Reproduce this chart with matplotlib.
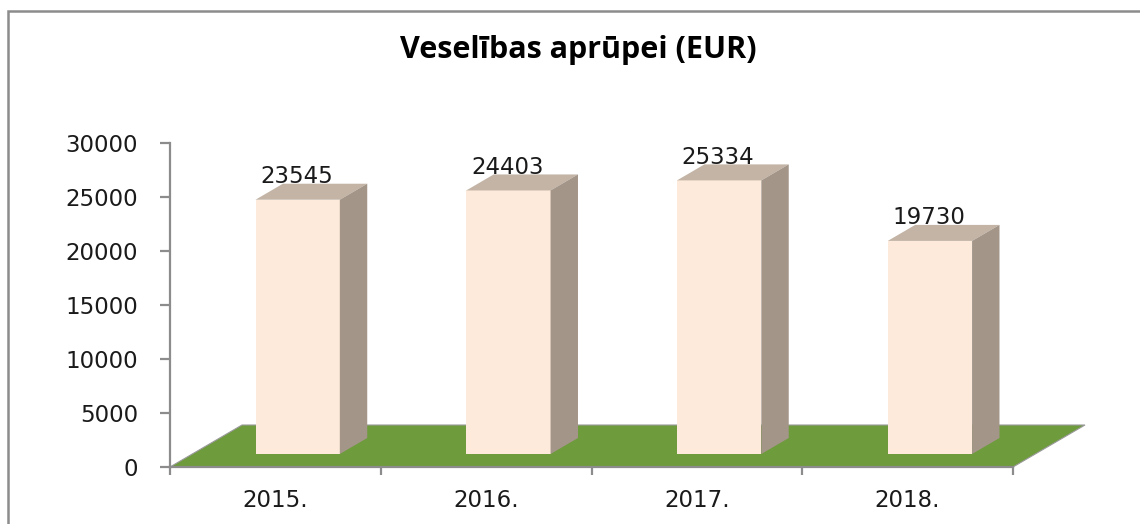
import matplotlib
matplotlib.use("Agg")
import matplotlib.pyplot as plt
from matplotlib.patches import Polygon, Rectangle

# ---- data ----
years = ["2015.", "2016.", "2017.", "2018."]
values = [23545, 24403, 25334, 19730]
title = "Veselības aprūpei (EUR)"
yticks = [0, 5000, 10000, 15000, 20000, 25000, 30000]

# ---- figure geometry (pixels) ----
W, H, DPI = 1140, 524, 100
fig = plt.figure(figsize=(W / DPI, H / DPI), dpi=DPI)
fig.patch.set_facecolor("white")

ax_l, ax_r, ax_top, ax_bot = 170, 1013, 143, 467
ax = fig.add_axes([ax_l / W, 1 - ax_bot / H, (ax_r - ax_l) / W, (ax_bot - ax_top) / H])
ax.set_xlim(0, len(years))
ax.set_ylim(0, 30000)
ax.patch.set_alpha(0)

# 3D depth vector expressed in data units
px_x = (ax_r - ax_l) / len(years)
px_y = (ax_bot - ax_top) / 30000
Dx, Dy = 72 / px_x, 42 / px_y
f0, f1 = 13 / 42, 29 / 42
bw = 0.4
FS = 16.5

grey = "#8c8c8c"
# floor
n = len(years)
floor = Polygon([(0, 0), (n, 0), (n + Dx, Dy), (Dx, Dy)], closed=True,
                facecolor="#6E9B3C", edgecolor="#9a9a9a", lw=0.8,
                clip_on=False, zorder=1)
ax.add_patch(floor)

front_c, top_c, side_c = "#FDEADA", "#C3B4A6", "#A39588"
for i, v in enumerate(values):
    c = i + 0.5
    x0 = c - bw / 2 + f0 * Dx
    x1 = c + bw / 2 + f0 * Dx
    yb = f0 * Dy
    yt = yb + v
    ddx, ddy = (f1 - f0) * Dx, (f1 - f0) * Dy
    ax.add_patch(Polygon([(x0, yb), (x1, yb), (x1, yt), (x0, yt)], closed=True,
                         facecolor=front_c, edgecolor="none", clip_on=False, zorder=3))
    ax.add_patch(Polygon([(x0, yt), (x1, yt), (x1 + ddx, yt + ddy), (x0 + ddx, yt + ddy)],
                         closed=True, facecolor=top_c, edgecolor="none", clip_on=False, zorder=3))
    ax.add_patch(Polygon([(x1, yb), (x1, yt), (x1 + ddx, yt + ddy), (x1 + ddx, yb + ddy)],
                         closed=True, facecolor=side_c, edgecolor="none", clip_on=False, zorder=3))
    ax.text((x0 + x1) / 2 - 0.005, yt + ddy + 60, f"{v}", ha="center", va="baseline",
            fontsize=FS, family="DejaVu Sans", color="#1a1a1a", zorder=4)

# axes styling
for s in ("top", "right"):
    ax.spines[s].set_visible(False)
for s in ("left", "bottom"):
    ax.spines[s].set_color(grey)
    ax.spines[s].set_linewidth(1.6)
    ax.spines[s].set_zorder(2)

ax.set_yticks(yticks)
ax.set_yticklabels([str(t) for t in yticks])
ax.tick_params(axis="y", direction="out", length=7, width=1.6, color=grey,
               pad=16, labelsize=FS, labelcolor="#1a1a1a")
ax.set_xticks(range(n + 1))
ax.set_xticklabels([""] * (n + 1))
ax.tick_params(axis="x", which="major", direction="out", length=6, width=1.6, color=grey)
ax.set_xticks([i + 0.5 for i in range(n)], minor=True)
ax.set_xticklabels(years, minor=True)
ax.tick_params(axis="x", which="minor", length=0, pad=16, labelsize=FS, labelcolor="#1a1a1a")

# title
fig.text(578.5 / W, 1 - 58 / H, title, ha="center", va="baseline",
         fontsize=22, fontweight="bold", family="Open Sans", color="black")

# outer frame
fig.patches.append(Rectangle((8 / W, -0.1), 1.2, 1 - 11 / H + 0.1, transform=fig.transFigure,
                             fill=False, edgecolor=grey, lw=1.8))

fig.savefig("out.png", dpi=DPI)
